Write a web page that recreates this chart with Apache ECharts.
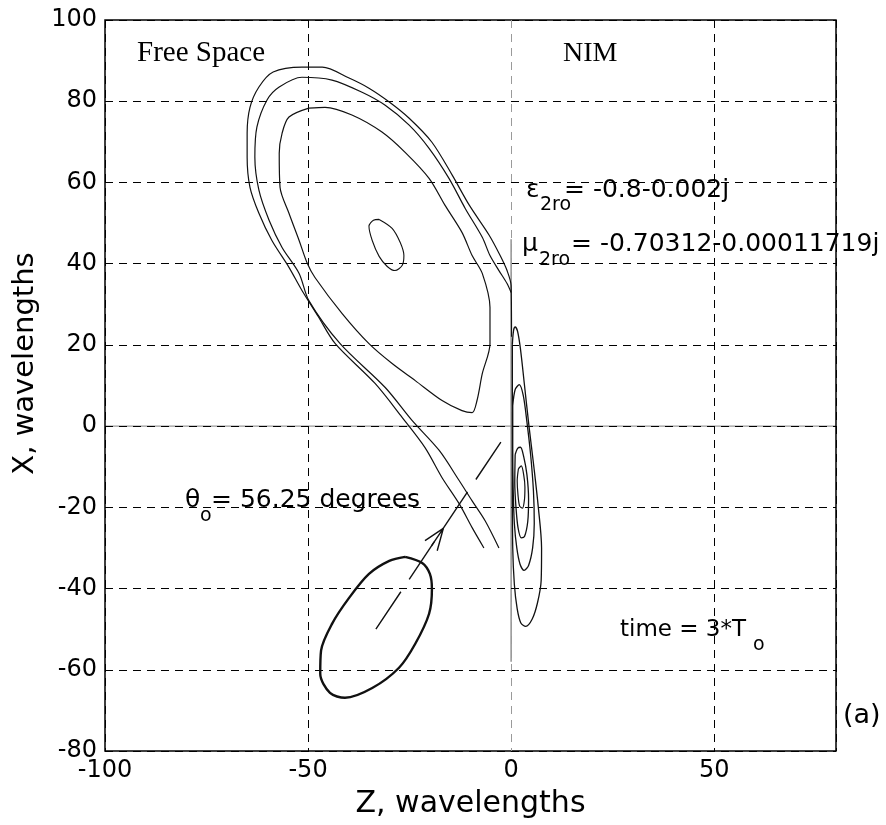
<!DOCTYPE html>
<html>
<head>
<meta charset="utf-8">
<script src="https://cdn.jsdelivr.net/npm/echarts@6/dist/echarts.min.js"></script>
<style>
  html, body { margin: 0; padding: 0; background: #fff; }
  #chart { width: 886px; height: 825px; }
</style>
</head>
<body>
<div id="chart"></div>
<script>
// Axis extents and tick spacing (wavelengths)
const zRange = [-100, 80];
const xRange = [-80, 100];
const zStep = 50;
const xStep = 20;

// Free-space side: field-magnitude contours of the reflected/incident beam, [Z, X]
const fsOuter = [
  [-6.7, -30.0], [-9.6, -25.0], [-12.8, -19.1], [-17.0, -12.7], [-21.2, -5.3],
  [-26.8, 2.1], [-33.5, 10.5], [-43.3, 20.3], [-47.5, 27.0], [-51.5, 33.4],
  [-54.7, 39.1], [-58.9, 45.7], [-62.1, 52.4], [-64.3, 58.8], [-65.0, 66.2],
  [-65.0, 72.1], [-64.3, 78.5], [-62.1, 83.5], [-58.6, 87.2], [-51.5, 88.4],
  [-46.5, 88.4], [-39.9, 85.7], [-35.0, 83.2], [-30.0, 79.8], [-25.1, 75.8],
  [-19.5, 69.9], [-14.5, 61.8], [-10.3, 54.4], [-5.4, 47.0], [-2.7, 42.0],
  [-1.0, 38.3], [0.0, 34.6], [0.1, 22.0]
];
const fsMiddle = [
  [-3.0, -30.0], [-6.4, -23.3], [-9.6, -18.4], [-12.8, -13.4], [-17.7, -6.0],
  [-24.4, 1.4], [-31.0, 9.5], [-42.1, 20.3], [-49.8, 30.9], [-52.2, 37.6],
  [-56.4, 44.0], [-59.6, 50.7], [-62.1, 58.1], [-63.1, 66.2], [-62.6, 73.6],
  [-60.1, 80.3], [-57.1, 83.5], [-51.5, 85.9], [-44.1, 85.2], [-36.7, 82.2],
  [-31.0, 79.0], [-25.1, 74.1], [-20.2, 68.4], [-15.3, 61.0], [-11.3, 53.6],
  [-7.1, 46.5], [-5.2, 42.0], [-3.0, 38.3], [-1.0, 35.1], [0.0, 32.9]
];
const fsInner = [
  [-49.8, 78.3], [-45.8, 78.5], [-39.2, 76.6], [-31.8, 72.4], [-26.1, 67.4],
  [-20.2, 61.0], [-16.3, 54.4], [-12.1, 47.7], [-9.6, 42.0], [-7.1, 37.6],
  [-5.2, 29.2], [-5.2, 20.3], [-7.1, 12.9], [-8.4, 6.3], [-9.6, 3.3],
  [-12.1, 3.8], [-17.0, 6.3], [-23.6, 11.2], [-29.3, 15.4], [-35.0, 20.3],
  [-41.6, 27.7], [-48.3, 36.6], [-50.2, 40.1], [-52.2, 45.7], [-54.7, 52.4],
  [-56.9, 58.8], [-57.1, 67.2], [-56.4, 72.1], [-54.7, 76.1], [-49.8, 78.3]
];
const fsPeak = [
  [-32.5, 50.9], [-29.3, 48.7], [-27.3, 45.2], [-26.4, 42.0], [-26.8, 39.6],
  [-28.6, 38.3], [-30.5, 39.3], [-32.5, 41.8], [-34.2, 45.7], [-35.0, 49.2],
  [-33.9, 50.7], [-32.5, 50.9]
];

// NIM side: transmitted-beam contours hugging the interface, [Z, X]
const nimLevel1 = [
  [0.3, 20.0], [0.6, 23.5], [1.0, 24.4], [1.6, 23.3], [2.3, 19.0], [3.3, 10.0],
  [4.4, 0.0], [5.6, -10.0], [6.7, -20.0], [7.5, -30.0], [7.4, -38.0], [6.5, -43.5],
  [5.2, -47.5], [3.6, -49.3], [2.4, -48.5], [1.5, -45.0], [0.8, -39.0], [0.4, -30.0],
  [0.3, -10.0], [0.3, 20.0]
];
const nimLevel2 = [
  [0.4, 5.0], [1.0, 9.0], [2.0, 10.2], [3.0, 7.5], [3.9, 1.0], [4.8, -7.0],
  [5.5, -16.0], [5.7, -24.0], [5.3, -30.0], [4.3, -34.3], [3.2, -35.5], [2.2, -34.0],
  [1.4, -30.0], [0.8, -24.0], [0.5, -15.0], [0.4, -5.0], [0.4, 5.0]
];
const nimLevel3 = [
  [1.0, -7.0], [1.6, -5.5], [2.3, -5.2], [3.1, -7.5], [3.9, -12.0], [4.3, -18.0],
  [4.1, -23.5], [3.3, -27.2], [2.5, -27.5], [1.7, -25.0], [1.2, -20.0], [0.9, -14.0],
  [1.0, -7.0]
];
const nimLevel4 = [
  [1.8, -10.5], [2.5, -9.8], [3.1, -12.0], [3.4, -15.0], [3.3, -18.0], [2.8, -20.2],
  [2.1, -19.7], [1.7, -17.0], [1.5, -13.5], [1.8, -10.5]
];

// Incident beam footprint at t = 0
const incidentBeam = [
  [-26.1, -32.2], [-21.9, -33.7], [-20.0, -36.4], [-19.5, -40.1], [-20.2, -46.2],
  [-23.6, -53.6], [-27.6, -59.5], [-34.2, -64.5], [-40.9, -66.9], [-44.6, -65.7],
  [-47.0, -61.0], [-46.8, -55.3], [-44.1, -48.7], [-39.9, -42.3], [-35.0, -36.4],
  [-30.0, -33.2], [-26.1, -32.2]
];

// Propagation direction (theta = 56.25 deg) and its arrow head
const beamAxis = [[-33.3, -50.0], [-1.6, -2.55]];
const arrowHead = [[-19.6, -29.5], [-16.7, -25.2], [-21.2, -28.2], [-16.7, -25.2], [-18.2, -30.7]];

// Interface (Z = 0) and X = 0 reference lines
const interfaceLine = [[0, 46], [0, -58]];
const xZeroLine = [[-100, 0], [80, 0]];

const SANS = 'DejaVu Sans';
const SERIF = 'Liberation Serif';

function curve(data, width, extra) {
  return Object.assign({
    type: 'line',
    data: data,
    symbol: 'none',
    silent: true,
    smooth: 0.3,
    lineStyle: { color: '#111', width: width }
  }, extra || {});
}

function txt(x, y, text, size, family, align) {
  return {
    type: 'text',
    x: x,
    y: y,
    silent: true,
    style: {
      text: text,
      fill: '#000',
      font: size + 'px "' + family + '"',
      align: align || 'left',
      verticalAlign: 'middle'
    }
  };
}

const chart = echarts.init(document.getElementById('chart'), null, { renderer: 'canvas' });

chart.setOption({
  animation: false,
  backgroundColor: '#fff',
  grid: {
    left: 105, right: 50, top: 20, bottom: 74,
    show: true, borderColor: '#000', borderWidth: 1.5, backgroundColor: 'transparent'
  },
  xAxis: {
    type: 'value',
    min: zRange[0], max: zRange[1], interval: zStep,
    axisLine: { show: false },
    axisTick: { show: false },
    axisLabel: { fontFamily: SANS, fontSize: 24, color: '#000', margin: 8, showMaxLabel: false },
    splitLine: {
      show: true,
      lineStyle: { color: ['#000', '#000', '#9a9a9a', '#000', '#000'], type: [8, 6], width: 1 }
    },
    name: 'Z, wavelengths',
    nameLocation: 'middle',
    nameGap: 38,
    nameTextStyle: { fontFamily: SANS, fontSize: 30, color: '#000' }
  },
  yAxis: {
    type: 'value',
    min: xRange[0], max: xRange[1], interval: xStep,
    axisLine: { show: false },
    axisTick: { show: false },
    axisLabel: { fontFamily: SANS, fontSize: 24, color: '#000', margin: 8 },
    splitLine: { show: true, lineStyle: { color: '#000', type: [8, 6], width: 1 } },
    name: 'X, wavelengths',
    nameLocation: 'middle',
    nameGap: 48,
    nameTextStyle: { fontFamily: SANS, fontSize: 29, color: '#000', padding: [0, 0, 0, 44] }
  },
  series: [
    curve(xZeroLine, 1.2, { smooth: false, lineStyle: { color: '#9a9a9a', width: 1.2 }, z: -1 }),
    curve(interfaceLine, 1.4, { smooth: false, lineStyle: { color: '#8a8a8a', width: 1.4 }, z: -1 }),
    curve(fsOuter, 1.2),
    curve(fsMiddle, 1.2),
    curve(fsInner, 1.2),
    curve(fsPeak, 1.1),
    curve(nimLevel1, 1.3),
    curve(nimLevel2, 1.3),
    curve(nimLevel3, 1.3),
    curve(nimLevel4, 1.2),
    curve(incidentBeam, 2.4),
    curve(beamAxis, 1.4, { smooth: false, lineStyle: { color: '#111', width: 1.4, type: [45, 15] } }),
    curve(arrowHead, 1.4, { smooth: false })
  ],
  graphic: [
    txt(137, 53, 'Free Space', 29, SERIF),
    txt(563, 54, 'NIM', 28, SERIF),
    txt(526, 190, '\u03b5', 25, SANS),
    txt(540, 205, '2ro', 19, SANS),
    txt(564, 190, '= -0.8-0.002j', 25, SANS),
    txt(522, 244, '\u03bc', 25, SANS),
    txt(539, 260, '2ro', 19, SANS),
    txt(571, 244, '= -0.70312-0.00011719j', 25, SANS),
    txt(185, 500, '\u03b8', 25, SANS),
    txt(200, 516, 'o', 19, SANS),
    txt(211, 500, '= 56.25 degrees', 25, SANS),
    txt(620, 630, 'time = 3*T', 23, SANS),
    txt(753, 645, 'o', 19, SANS),
    txt(843, 716, '(a)', 27, SANS)
  ]
});
</script>
</body>
</html>
